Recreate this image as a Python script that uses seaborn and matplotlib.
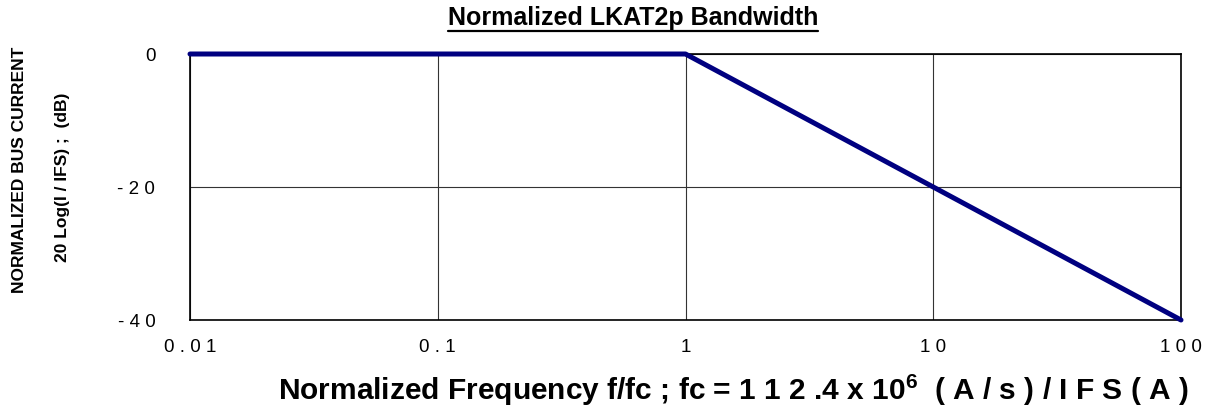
import matplotlib
matplotlib.use("Agg")
import matplotlib.pyplot as plt
import seaborn as sns
import pandas as pd
from matplotlib.lines import Line2D

# --- data ---
freq = [0.01, 1, 100]
gain_db = [0, 0, -40]
x_ticks = [0.01, 0.1, 1, 10, 100]
x_ticklabels = ["0 . 0 1", "0 . 1", "1", "1 0", "1 0 0"]
y_ticks = [0, -20, -40]
y_ticklabels = ["0", "- 2 0", "- 4 0"]

sns.set_theme(style="white")
plt.rcParams["font.family"] = ["Liberation Sans", "DejaVu Sans"]
plt.rcParams["text.color"] = "black"
plt.rcParams["mathtext.fontset"] = "custom"
plt.rcParams["mathtext.bf"] = "Liberation Sans:bold"

fig = plt.figure(figsize=(12.06, 4.19), dpi=100)
top = 1 - 54 / 419
bottom = 1 - 320 / 419
ax = fig.add_axes([190 / 1206, bottom, (1181 - 190) / 1206, top - bottom])

df = pd.DataFrame({"f": freq, "db": gain_db})
sns.lineplot(data=df, x="f", y="db", ax=ax, color="#000080", linewidth=3.6, clip_on=False, zorder=5)

ax.set_xscale("log")
ax.set_xlim(0.01, 100)
ax.set_ylim(-40, 0)
ax.set_xticks(x_ticks)
ax.set_xticklabels(x_ticklabels, fontsize=13.5)
ax.set_yticks(y_ticks)
ax.set_yticklabels(y_ticklabels, fontsize=13.5)
ax.minorticks_off()
ax.tick_params(axis="both", length=0, colors="black")
ax.tick_params(axis="y", pad=25)
ax.tick_params(axis="x", pad=14)
ax.grid(True, color="#333333", linewidth=0.8)
ax.set_axisbelow(True)
for s in ax.spines.values():
    s.set_color("black")
    s.set_linewidth(1.2)
ax.set_xlabel("")
ax.set_ylabel("")

# titles and labels
title = fig.text(633 / 1206, 1 - 18 / 419, "Normalized LKAT2p Bandwidth", ha="center", va="center",
                 fontsize=18, fontweight="bold")
fig.text(733 / 1206, 1 - 390 / 419,
         r"Normalized Frequency f/fc ; fc = 1 1 2 .4 x 10$^{\mathbf{6}}$  ( A / s ) / I F S ( A )",
         ha="center", va="center", fontsize=21.5, fontweight="bold")
fig.text(20 / 1206, 1 - 170 / 419, "NORMALIZED BUS CURRENT", rotation=90, ha="center", va="center",
         fontsize=12.5, fontweight="bold")
fig.text(62 / 1206, 1 - 177 / 419, "20 Log(I / IFS) ;  (dB)", rotation=90, ha="center", va="center",
         fontsize=12.5, fontweight="bold")

# underline the title
fig.canvas.draw()
bb = title.get_window_extent().transformed(fig.transFigure.inverted())
fig.add_artist(Line2D([bb.x0, bb.x1], [bb.y0 - 0.002, bb.y0 - 0.002], color="black",
                      linewidth=1.6, transform=fig.transFigure))

fig.savefig("out.png", dpi=100)
